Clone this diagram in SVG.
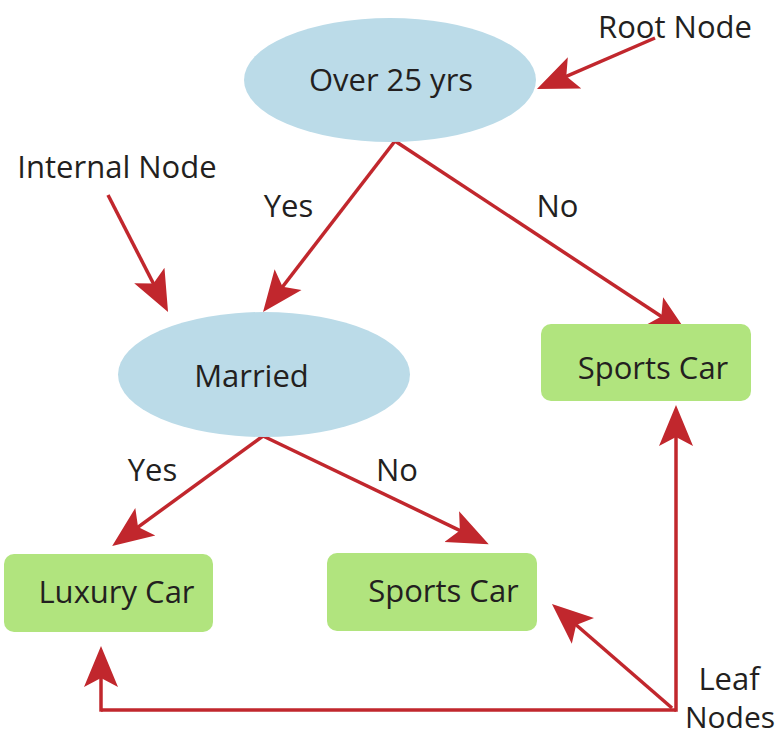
<svg xmlns="http://www.w3.org/2000/svg" width="783" height="738" viewBox="0 0 783 738">
<style>
.ell{fill:#bbdbe8}
.box{fill:#b1e47e}
.t{font-family:"Open Sans","Liberation Sans",sans-serif;font-size:31px;fill:#231f20;text-anchor:middle}
.c{stroke:#c1272d;stroke-width:3.5;fill:none;marker-end:url(#ah)}
.cl{stroke:#c1272d;stroke-width:3.5;fill:none}
</style>
<defs>
<marker id="ah" markerUnits="userSpaceOnUse" markerWidth="42" markerHeight="36" viewBox="0 0 42 36" refX="26" refY="18" orient="auto">
<path d="M41,18 L0,1 L9,18 L0,35 Z" fill="#c1272d"/>
</marker>
</defs>
<g id="connectors">
<line class="c" x1="655" y1="38" x2="550.7" y2="83.1"/>
<line class="c" x1="108" y1="195" x2="161.2" y2="298.7"/>
<line class="c" x1="395" y1="141" x2="272.2" y2="300.2"/>
<line class="c" x1="395" y1="141" x2="675.5" y2="325.8"/>
<line class="c" x1="263" y1="436" x2="124.3" y2="537.1"/>
<line class="c" x1="263" y1="436" x2="475.2" y2="537.8"/>
<line class="cl" x1="101" y1="710" x2="676" y2="710"/>
<line class="c" x1="101" y1="711.7" x2="101" y2="661"/>
<line class="c" x1="676" y1="711.7" x2="676" y2="420"/>
<line class="c" x1="672" y1="708" x2="563.3" y2="613.8"/>
</g>
<g id="root">
<ellipse class="ell" cx="390" cy="80" rx="146" ry="62"/>
<text class="t" x="391" y="91">Over 25 yrs</text>
</g>
<g id="married">
<ellipse class="ell" cx="264" cy="374.5" rx="146" ry="62.5"/>
<text class="t" x="251.5" y="387">Married</text>
</g>
<g id="sports-right">
<rect class="box" x="541" y="324" width="210" height="77" rx="10"/>
<text class="t" x="653" y="379">Sports Car</text>
</g>
<g id="luxury">
<rect class="box" x="4" y="554" width="209" height="78" rx="10"/>
<text class="t" x="116.5" y="603">Luxury Car</text>
</g>
<g id="sports-mid">
<rect class="box" x="327" y="553" width="210" height="78" rx="10"/>
<text class="t" x="443.5" y="602">Sports Car</text>
</g>
<g id="labels">
<text class="t" x="675" y="38">Root Node</text>
<text class="t" x="117" y="178">Internal Node</text>
<text class="t" x="288.5" y="217">Yes</text>
<text class="t" x="557.5" y="217">No</text>
<text class="t" x="152.5" y="481">Yes</text>
<text class="t" x="397" y="481">No</text>
<text class="t" x="729" y="690">Leaf</text>
<text class="t" x="730" y="728" style="font-size:30px">Nodes</text>
</g>
</svg>
